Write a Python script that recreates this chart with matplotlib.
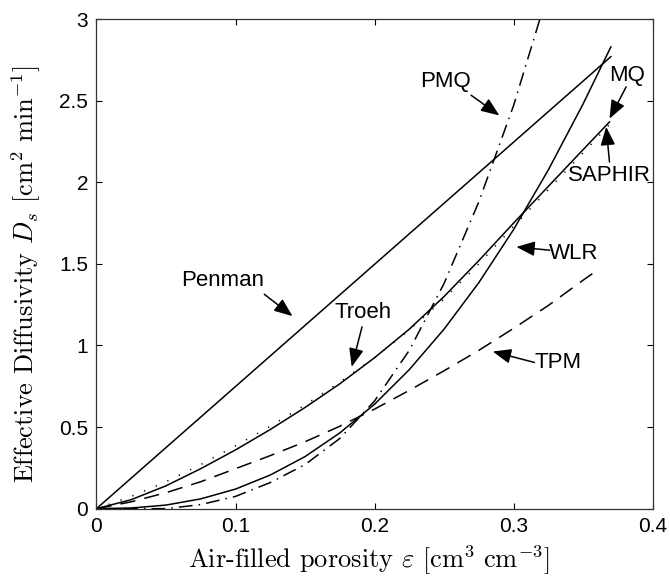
import matplotlib
matplotlib.use('Agg')
import matplotlib.pyplot as plt
from matplotlib.ticker import FuncFormatter

# air-filled porosity grid (cm3 cm-3) and diffusivity readings (cm2 min-1)
eps_penman = [0.0, 0.37]
ds_penman = [0.0, 2.77]

eps_grid = [0.0, 0.025, 0.05, 0.075, 0.1, 0.125, 0.15, 0.175, 0.2,
            0.225, 0.25, 0.275, 0.3, 0.325, 0.35]

eps_wlr = eps_grid + [0.37]
ds_wlr = [0.0, 0.004, 0.022, 0.06, 0.12, 0.206, 0.319, 0.464, 0.64,
          0.852, 1.10, 1.385, 1.71, 2.076, 2.48, 2.83]

eps_mq = eps_grid + [0.369]
ds_mq = [0.0, 0.055, 0.14, 0.245, 0.36, 0.485, 0.62, 0.765, 0.925,
         1.10, 1.30, 1.52, 1.75, 1.975, 2.20, 2.37]

eps_troeh = eps_grid + [0.369]
ds_troeh = [0.0, 0.075, 0.165, 0.27, 0.385, 0.505, 0.635, 0.775, 0.925,
            1.095, 1.285, 1.50, 1.73, 1.955, 2.18, 2.355]

eps_tpm = eps_grid + [0.36]
ds_tpm = [0.0, 0.042, 0.098, 0.165, 0.245, 0.325, 0.41, 0.505, 0.61,
          0.725, 0.845, 0.97, 1.105, 1.245, 1.40, 1.46]

eps_pmq = [0.0, 0.05, 0.075, 0.1, 0.125, 0.15, 0.175, 0.2, 0.225,
           0.25, 0.275, 0.3, 0.32]
ds_pmq = [0.0, 0.0, 0.025, 0.075, 0.16, 0.27, 0.43, 0.66, 0.97,
          1.38, 1.88, 2.47, 3.03]

# label text, text position, arrow tail, arrow head
labels = ['Penman', 'Troeh', 'PMQ', 'MQ', 'SAPHIR', 'WLR', 'TPM']
label_pos = [(0.091, 1.40), (0.192, 1.20), (0.251, 2.615), (0.382, 2.656),
             (0.369, 2.043), (0.343, 1.564), (0.332, 0.896)]
arrow_tail = [(0.1207, 1.314), (0.191, 1.114), (0.2694, 2.534), (0.381, 2.585),
              (0.369, 2.125), (0.326, 1.584), (0.315, 0.896)]
arrow_head = [(0.141, 1.18), (0.1836, 0.869), (0.2898, 2.41), (0.369, 2.39),
              (0.3666, 2.34), (0.302, 1.604), (0.285, 0.963)]

plt.rcParams['font.family'] = ['Liberation Sans', 'DejaVu Sans']
plt.rcParams['mathtext.fontset'] = 'cm'

fig = plt.figure(figsize=(6.7, 5.8), dpi=100)
ax = fig.add_axes([0.144, 0.123, 0.830, 0.844])

lw = 1.1
ax.plot(eps_penman, ds_penman, color='black', lw=lw)
ax.plot(eps_wlr, ds_wlr, color='black', lw=lw)
ax.plot(eps_mq, ds_mq, color='black', lw=lw)
ax.plot(eps_troeh, ds_troeh, color='black', lw=lw, dashes=(0.8, 7.5))
ax.plot(eps_tpm, ds_tpm, color='black', lw=lw, dashes=(10, 6))
ax.plot(eps_pmq, ds_pmq, color='black', lw=lw, dashes=(9, 4, 1, 4))

for txt, pos, tail, head in zip(labels, label_pos, arrow_tail, arrow_head):
    ax.text(pos[0], pos[1], txt, fontsize=16, ha='center', va='center')
    ax.annotate('', xy=head, xytext=tail,
                arrowprops=dict(arrowstyle='-|>,head_length=0.7,head_width=0.28',
                                color='black', lw=1.1, shrinkA=0, shrinkB=0,
                                mutation_scale=16))

ax.set_xlim(0, 0.4)
ax.set_ylim(0, 3)
ax.set_xticks([0, 0.1, 0.2, 0.3, 0.4])
ax.set_yticks([0, 0.5, 1, 1.5, 2, 2.5, 3])
fmt = FuncFormatter(lambda v, p: '%g' % v)
ax.xaxis.set_major_formatter(fmt)
ax.yaxis.set_major_formatter(fmt)
ax.tick_params(direction='in', top=True, right=True, length=4, width=0.8,
               labelsize=15, pad=6)
for s in ax.spines.values():
    s.set_linewidth(0.9)
    s.set_color('#333333')

ax.set_xlabel(r'Air-filled porosity $\varepsilon$ $[\mathrm{cm}^3\ \mathrm{cm}^{-3}]$',
              fontsize=19, family='cmr10')
ax.set_ylabel(r'Effective Diffusivity $D_s$ $[\mathrm{cm}^2\ \mathrm{min}^{-1}]$',
              fontsize=19, family='cmr10')
ax.xaxis.set_label_coords(0.49, -0.072)
ax.yaxis.set_label_coords(-0.097, 0.479)

fig.savefig('out.png', dpi=100)
